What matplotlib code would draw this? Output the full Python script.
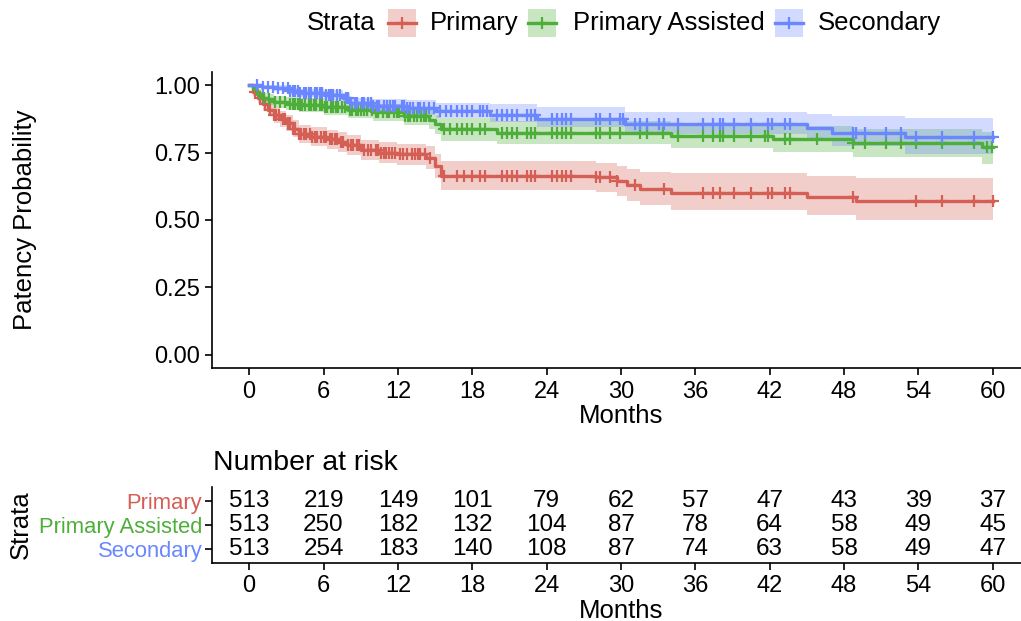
import numpy as np
import matplotlib
matplotlib.use("Agg")
from matplotlib import pyplot as plt
from matplotlib.patches import Rectangle
from matplotlib.lines import Line2D

plt.rcParams['font.family'] = ['Liberation Sans', 'DejaVu Sans']

# --- survival curves (months, probability) ---
primary_time = [0, 0.3, 0.7, 1.1, 1.5, 2.0, 2.5, 3.0, 3.5, 4.0, 5.0, 6.3, 7.2, 7.9, 9.0,
                10.5, 11.9, 14.3, 15.0, 15.5, 28.0, 29.7, 30.5, 31.5, 34.0, 45.0, 49.0]
primary_surv = [1.0, 0.975, 0.955, 0.93, 0.91, 0.89, 0.875, 0.86, 0.84, 0.82, 0.81, 0.80, 0.79,
                0.78, 0.76, 0.75, 0.744, 0.732, 0.70, 0.665, 0.658, 0.645, 0.63, 0.615, 0.60,
                0.587, 0.572]
primary_lower = [1.0, 0.96, 0.935, 0.905, 0.885, 0.862, 0.846, 0.83, 0.808, 0.787, 0.776, 0.765,
                 0.754, 0.743, 0.722, 0.711, 0.704, 0.69, 0.656, 0.612, 0.604, 0.588, 0.572,
                 0.555, 0.537, 0.52, 0.50]
primary_upper = [1.0, 0.99, 0.975, 0.955, 0.935, 0.918, 0.904, 0.89, 0.872, 0.853, 0.844, 0.835,
                 0.826, 0.817, 0.798, 0.789, 0.784, 0.774, 0.744, 0.718, 0.712, 0.70, 0.69,
                 0.678, 0.673, 0.662, 0.655]
primary_censor = [0.5, 0.9, 1.3, 1.7, 2.0, 2.2, 2.4, 2.7, 2.9, 3.1, 3.3, 3.5, 3.7, 4.0, 4.2,
                  4.4, 4.6, 4.9, 5.1, 5.3, 5.5, 5.8, 6.0, 6.2, 6.5, 6.7, 6.9, 7.1, 7.4, 7.6,
                  8.0, 8.2, 8.4, 8.7, 8.9, 9.3, 9.6, 9.8, 10.2, 10.4, 10.6, 10.9, 11.0, 11.3,
                  11.5, 11.8, 12.2, 12.4, 12.7, 13.1, 13.4, 13.6, 13.8, 14.2, 14.6, 15.7,
                  16.8, 17.3, 18.0, 18.6, 19.0, 20.4, 20.8, 21.2, 21.6, 22.4, 22.7, 23.1,
                  24.4, 24.8, 25.2, 25.6, 26.0, 28.0, 28.3, 29.1, 29.7, 31.1, 33.5, 36.6,
                  37.4, 38.0, 39.1, 40.5, 41.9, 42.2, 43.2, 43.6, 48.7, 53.8, 55.9, 58.5, 60.0]

assisted_time = [0, 0.3, 0.6, 1.0, 1.5, 2.0, 3.0, 4.0, 6.0, 8.0, 10.0, 12.5, 14.5, 15.0, 15.5,
                 20.0, 34.0, 42.3, 48.7, 59.1]
assisted_surv = [1.0, 0.985, 0.97, 0.955, 0.948, 0.94, 0.932, 0.926, 0.92, 0.91, 0.90, 0.886,
                 0.873, 0.855, 0.838, 0.824, 0.814, 0.80, 0.787, 0.771]
assisted_lower = [1.0, 0.975, 0.955, 0.937, 0.928, 0.918, 0.908, 0.90, 0.892, 0.88, 0.868,
                  0.852, 0.838, 0.818, 0.795, 0.781, 0.769, 0.752, 0.735, 0.707]
assisted_upper = [1.0, 0.995, 0.985, 0.973, 0.968, 0.962, 0.956, 0.952, 0.948, 0.94, 0.932,
                  0.92, 0.908, 0.892, 0.88, 0.867, 0.859, 0.848, 0.838, 0.826]
assisted_censor = [1.2, 1.6, 2.1, 2.5, 2.9, 3.3, 3.5, 3.7, 3.9, 4.1, 4.3, 4.5, 4.8, 5.0, 5.2,
                   5.4, 5.7, 5.9, 6.1, 6.3, 6.6, 6.8, 7.0, 7.2, 7.5, 7.7, 8.1, 8.3, 8.6, 8.8,
                   9.0, 9.3, 9.5, 9.9, 10.2, 10.4, 10.8, 11.1, 11.3, 11.7, 11.9, 12.1, 12.6,
                   12.8, 13.0, 13.3, 13.5, 13.9, 14.1, 14.3, 15.7, 16.2, 16.8, 17.2, 17.6,
                   18.0, 18.6, 19.0, 20.4, 20.8, 21.2, 21.6, 22.4, 22.7, 23.1, 24.4, 24.8,
                   25.2, 25.6, 26.0, 28.0, 28.3, 29.1, 29.9, 31.5, 32.1, 33.4, 34.6, 36.6,
                   37.4, 38.0, 38.2, 39.1, 40.5, 41.6, 41.9, 43.2, 43.6, 45.8, 48.7, 49.7,
                   51.4, 52.6, 53.8, 55.9, 58.5, 59.5, 59.9]

secondary_time = [0, 1.0, 2.0, 3.3, 4.0, 6.0, 7.6, 8.1, 10.0, 12.7, 15.1, 19.4, 23.2, 30.3,
                  45.0, 47.0, 52.9]
secondary_surv = [1.0, 0.995, 0.99, 0.978, 0.972, 0.966, 0.953, 0.935, 0.925, 0.916, 0.904,
                  0.892, 0.876, 0.858, 0.841, 0.824, 0.808]
secondary_lower = [1.0, 0.988, 0.98, 0.963, 0.956, 0.948, 0.933, 0.913, 0.902, 0.892, 0.878,
                   0.864, 0.846, 0.818, 0.797, 0.775, 0.744]
secondary_upper = [1.0, 1.0, 1.0, 0.99, 0.986, 0.982, 0.971, 0.955, 0.948, 0.945, 0.935,
                   0.93, 0.92, 0.90, 0.894, 0.886, 0.88]
secondary_censor = [0.6, 1.1, 1.5, 1.9, 2.3, 2.7, 3.1, 3.3, 3.5, 3.7, 3.9, 4.1, 4.4, 4.6, 4.8,
                    5.0, 5.3, 5.5, 5.7, 5.9, 6.2, 6.4, 6.6, 6.8, 7.1, 7.3, 7.8, 8.0, 8.2,
                    8.5, 8.7, 9.1, 9.3, 9.6, 9.8, 10.0, 10.3, 10.5, 10.9, 11.1, 11.4, 11.6,
                    11.8, 12.3, 12.5, 12.7, 13.0, 13.2, 13.6, 13.8, 14.1, 14.5, 14.9, 15.4,
                    15.9, 16.3, 16.8, 17.2, 17.6, 18.0, 18.6, 18.9, 19.2, 20.0, 20.4, 20.8,
                    21.2, 21.6, 22.4, 22.7, 23.1, 24.4, 24.8, 25.2, 25.6, 26.0, 28.0, 28.3,
                    29.1, 29.9, 30.2, 31.1, 31.5, 32.1, 33.1, 33.5, 34.6, 36.6, 37.4, 38.0,
                    38.2, 39.1, 40.5, 41.9, 42.2, 43.2, 43.6, 48.7, 49.0, 49.7, 51.4, 52.6,
                    53.8, 55.9, 58.5, 60.0]

strata = ["Primary", "Primary Assisted", "Secondary"]
colors = ["#D55E55", "#4DAF3A", "#6A87FF"]

# --- number at risk table ---
risk_times = [0, 6, 12, 18, 24, 30, 36, 42, 48, 54, 60]
risk_primary = [513, 219, 149, 101, 79, 62, 57, 47, 43, 39, 37]
risk_assisted = [513, 250, 182, 132, 104, 87, 78, 64, 58, 49, 45]
risk_secondary = [513, 254, 183, 140, 108, 87, 74, 63, 58, 49, 47]

END = 60
FS = 17      # tick labels / table numbers
FT = 18.5    # axis titles, legend

W, H = 1021, 621
fig = plt.figure(figsize=(W / 100, H / 100), dpi=100)

ax = fig.add_axes([212 / W, (H - 368) / H, (1030 - 212) / W, (368 - 72) / H])

curves = [
    (primary_time, primary_surv, primary_lower, primary_upper, primary_censor),
    (assisted_time, assisted_surv, assisted_lower, assisted_upper, assisted_censor),
    (secondary_time, secondary_surv, secondary_lower, secondary_upper, secondary_censor),
]

for (t, s, lo, up, cens), col in zip(curves, colors):
    tt = np.array(t + [END])
    ll = np.array(lo + [lo[-1]])
    uu = np.array(up + [up[-1]])
    ax.fill_between(tt, ll, uu, step='post', color=col, alpha=0.3, lw=0)
for (t, s, lo, up, cens), col in zip(curves, colors):
    tt = np.array(t + [END])
    ss = np.array(s + [s[-1]])
    ax.step(tt, ss, where='post', color=col, lw=2.4)
    idx = np.searchsorted(np.array(t), np.array(cens), side='right') - 1
    cy = np.array(s)[idx]
    ax.plot(cens, cy, ls='none', marker='+', ms=9, mew=1.6, color=col)

ax.set_xlim(-3, 63)
ax.set_ylim(-0.05, 1.05)
ax.set_xticks(risk_times)
ax.set_yticks([0, 0.25, 0.5, 0.75, 1.0])
ax.set_yticklabels(["0.00", "0.25", "0.50", "0.75", "1.00"])
ax.set_xlabel("Months", fontsize=FT, labelpad=1)
ax.set_ylabel("Patency Probability", fontsize=FT)
ax.yaxis.set_label_coords(-0.214, 0.5)
ax.tick_params(labelsize=FS, length=5, width=1.2, colors='black')
ax.tick_params(axis='x', pad=4)
for side in ["top", "right"]:
    ax.spines[side].set_visible(False)
for side in ["left", "bottom"]:
    ax.spines[side].set_linewidth(1.2)

# legend across the top
fig.text(307 / W, 1 - 23 / H, "Strata", fontsize=FT, va='center', ha='left')
legend_boxes = [388, 528, 775]
legend_text_x = [430, 573, 818]
for bx, tx, name, col in zip(legend_boxes, legend_text_x, strata, colors):
    fig.patches.append(Rectangle((bx / W, 1 - 37 / H), 28 / W, 28 / H,
                                 transform=fig.transFigure, color=col, alpha=0.3, lw=0))
    fig.lines.append(Line2D([bx / W, (bx + 28) / W], [1 - 23 / H, 1 - 23 / H],
                            transform=fig.transFigure, color=col, lw=2.4))
    fig.lines.append(Line2D([(bx + 14) / W], [1 - 23 / H], transform=fig.transFigure,
                            color=col, marker='+', ms=9, mew=1.6))
    fig.text(tx / W, 1 - 23 / H, name, fontsize=FT, va='center', ha='left')

# risk table
tab = fig.add_axes([212 / W, (H - 563) / H, (1030 - 212) / W, (563 - 487) / H])
tab.set_xlim(-3, 63)
tab.set_ylim(0.4, 3.6)
rows = [3, 2, 1]
for row, counts in zip(rows, [risk_primary, risk_assisted, risk_secondary]):
    for x, n in zip(risk_times, counts):
        tab.text(x, row, str(n), fontsize=FS + 0.5, ha='center', va='center')
tab.set_xticks(risk_times)
tab.set_yticks(rows)
tab.set_yticklabels(strata)
for lab, col in zip(tab.get_yticklabels(), colors):
    lab.set_color(col)
    lab.set_fontsize(15.8)
tab.set_xlabel("Months", fontsize=FT, labelpad=1)
tab.set_ylabel("Strata", fontsize=FT)
tab.yaxis.set_label_coords(-0.219, 0.5)
tab.tick_params(axis='x', labelsize=FS, length=5, width=1.2, pad=4)
tab.tick_params(axis='y', length=5, width=1.2, pad=2)
for side in ["top", "right"]:
    tab.spines[side].set_visible(False)
for side in ["left", "bottom"]:
    tab.spines[side].set_linewidth(1.2)
fig.text(213 / W, 1 - 463 / H, "Number at risk", fontsize=20.5, va='center', ha='left')

fig.savefig("out.png", dpi=100)
